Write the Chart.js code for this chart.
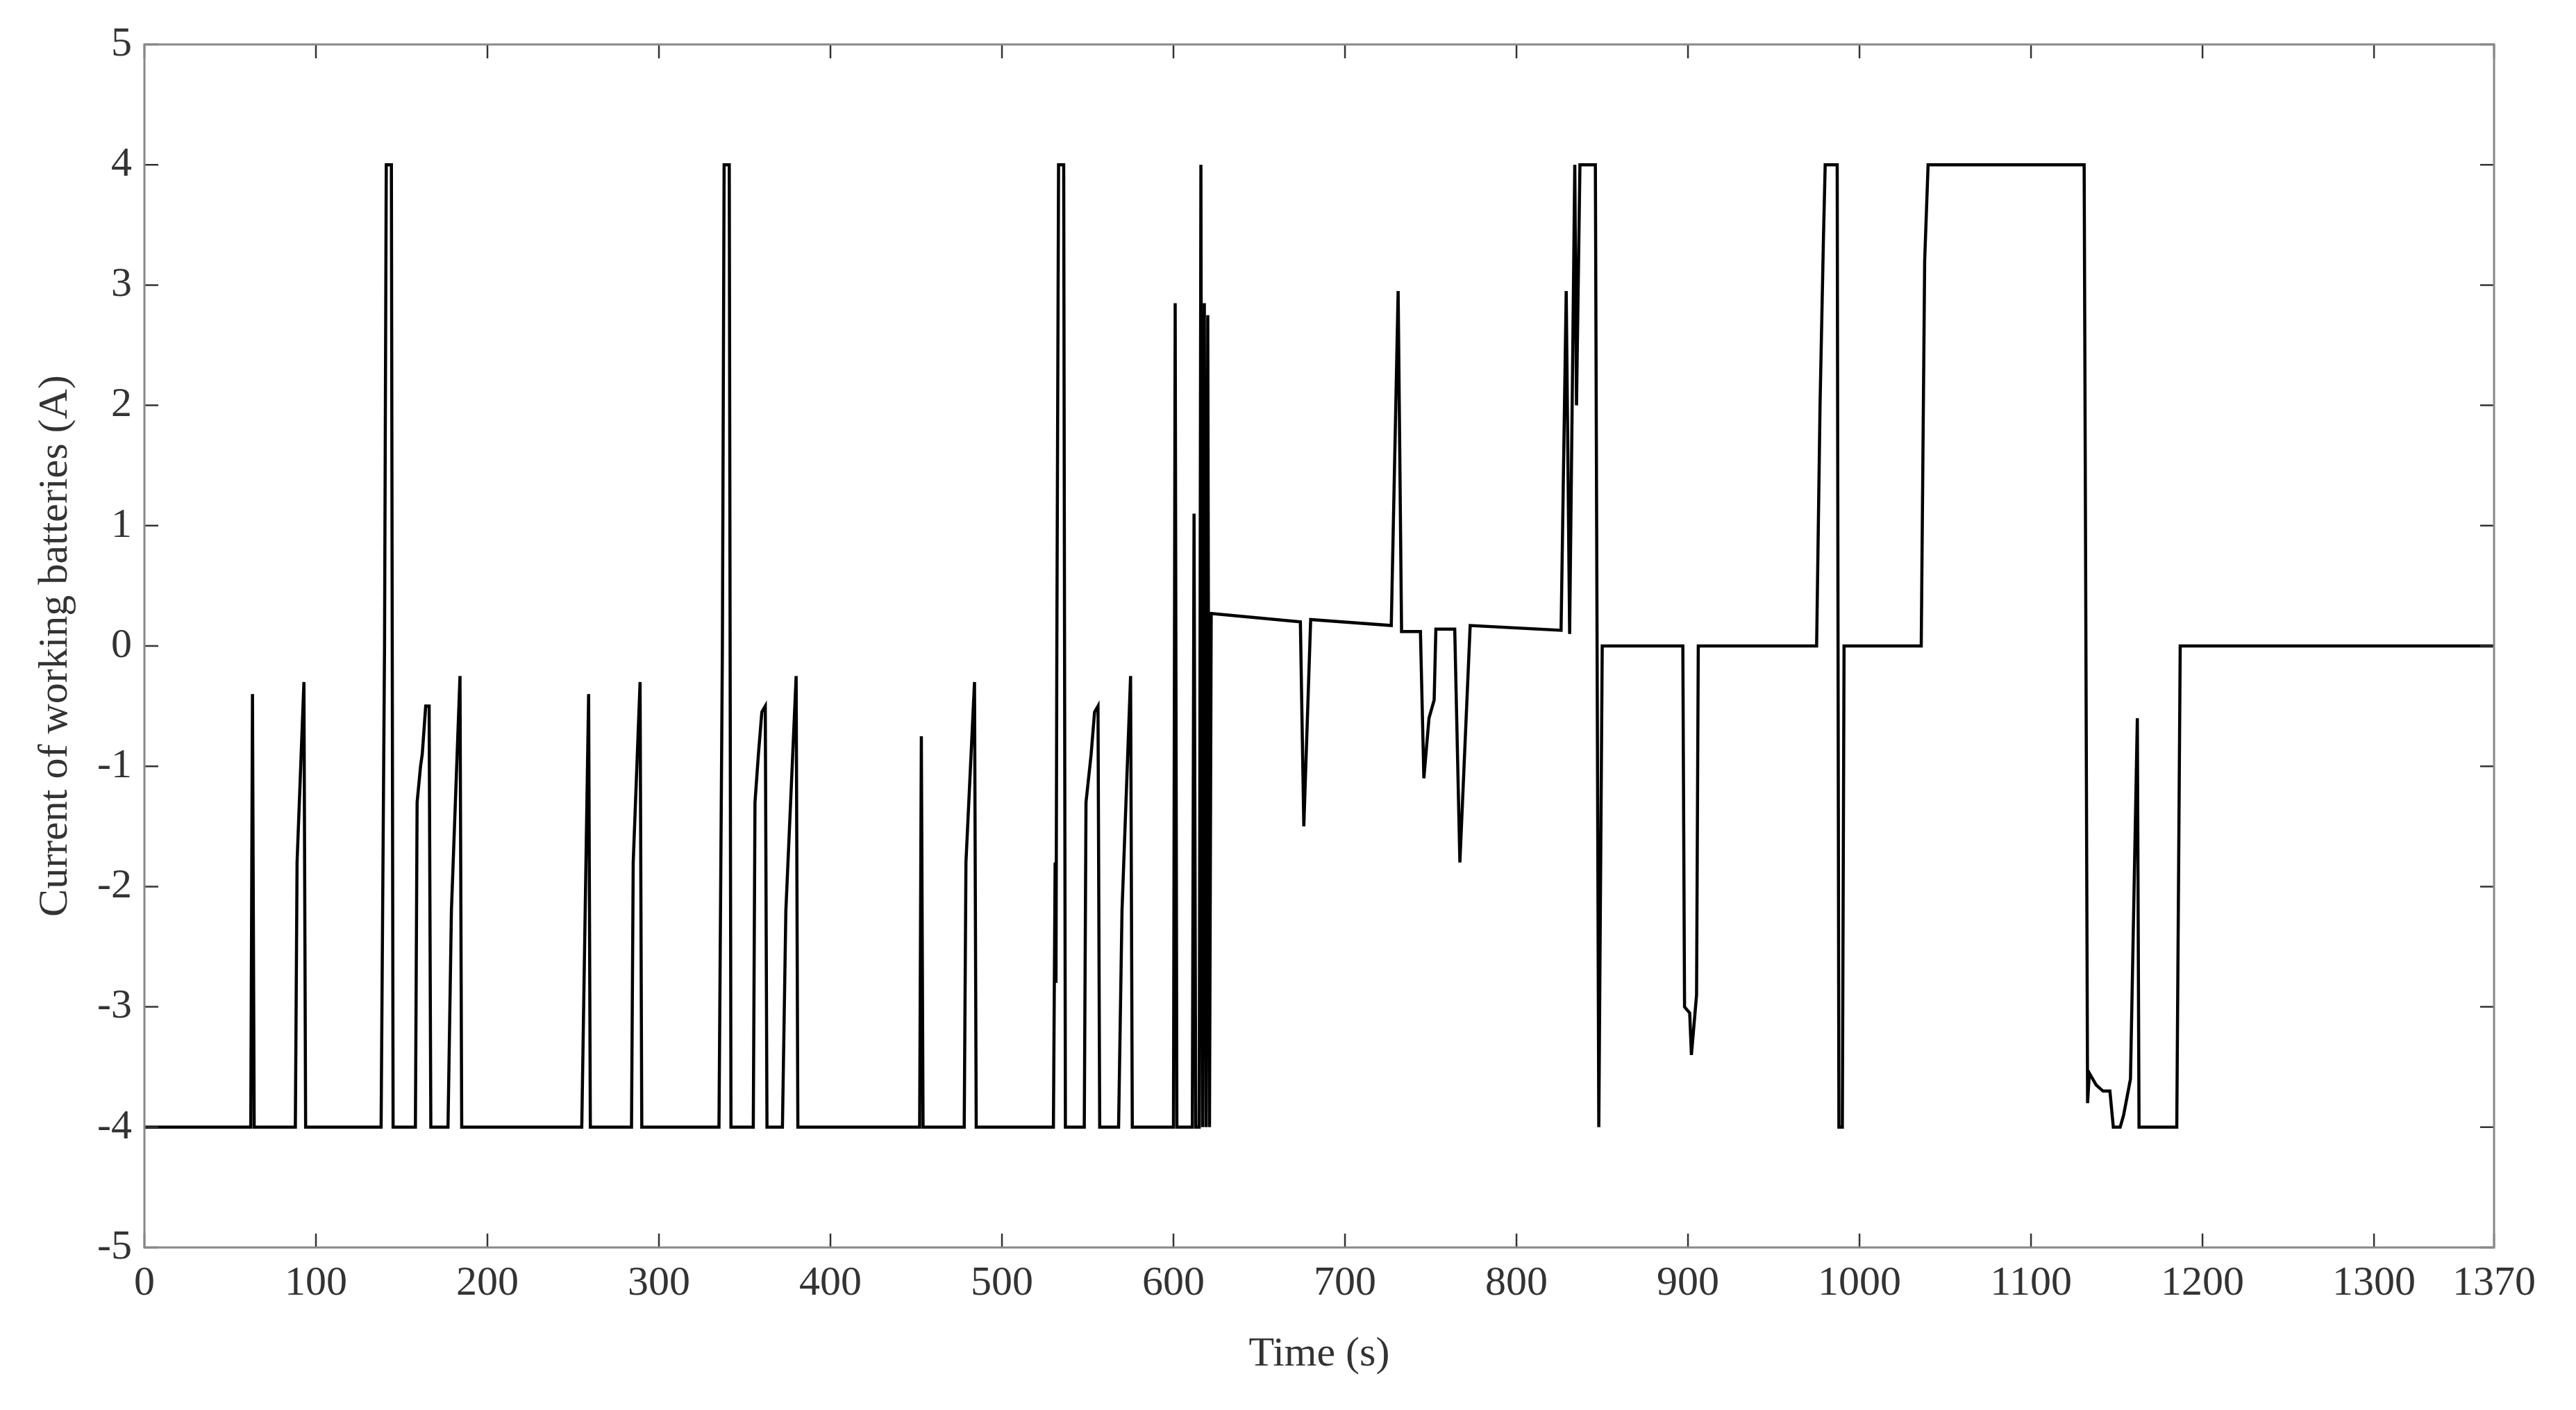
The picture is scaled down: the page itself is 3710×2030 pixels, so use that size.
<!DOCTYPE html>
<html>
<head>
<meta charset="utf-8">
<script src="https://cdn.jsdelivr.net/npm/chart.js@4.4.1/dist/chart.umd.min.js"></script>
<style>
  html, body { margin: 0; padding: 0; background: #fff; }
  #wrap { width: 3710px; height: 2030px; }
</style>
</head>
<body>
<div id="wrap"><canvas id="currentChart" width="3710" height="2030"></canvas></div>
<script>
// time (s) and current (A)
const timeS = [0, 62, 63, 64, 88, 89, 93, 94, 138, 140, 141, 144, 145, 158, 159, 161, 162, 164, 166, 167, 177, 179, 184, 185,
  255, 259, 260, 284, 285, 289, 290, 335, 337, 338, 341, 342, 355, 356, 358, 360, 362, 363, 372, 374, 380, 381,
  452, 453, 454, 478, 479, 484, 485, 530, 531, 531.5, 532, 533, 536, 537, 548, 549, 552, 554, 556, 557, 568, 570, 575, 576,
  600, 601, 602, 611, 612, 613, 615, 616, 617, 618, 619, 620, 621, 622,
  674, 676, 680, 727, 731, 733, 744, 746, 749, 752, 753, 764, 767, 773, 826, 829, 831, 834, 835, 837, 839, 846, 848, 850,
  897, 898, 901, 902, 905, 906, 975, 977, 979, 980, 987, 988, 990, 991, 1036, 1038, 1040, 1131,
  1133, 1134, 1138, 1142, 1146, 1148, 1152, 1154, 1158, 1162, 1163, 1185, 1187, 1370];
const currentA = [-4, -4, -0.4, -4, -4, -1.8, -0.3, -4, -4, 0, 4, 4, -4, -4, -1.3, -1.0, -0.9, -0.5, -0.5, -4, -4, -2.2, -0.25, -4,
  -4, -0.4, -4, -4, -1.8, -0.3, -4, -4, 0, 4, 4, -4, -4, -1.3, -0.9, -0.55, -0.5, -4, -4, -2.2, -0.25, -4,
  -4, -0.75, -4, -4, -1.8, -0.3, -4, -4, -1.8, -2.8, 0, 4, 4, -4, -4, -1.3, -0.9, -0.55, -0.5, -4, -4, -2.2, -0.25, -4,
  -4, 2.85, -4, -4, 1.1, -4, -4, 4, -4, 2.85, -4, 2.75, -4, 0.27,
  0.2, -1.5, 0.22, 0.17, 2.95, 0.12, 0.12, -1.1, -0.6, -0.45, 0.14, 0.14, -1.8, 0.17, 0.13, 2.95, 0.1, 4, 2, 4, 4, 4, -4, 0,
  0, -3, -3.05, -3.4, -2.9, 0, 0, 2, 3.4, 4, 4, -4, -4, 0, 0, 3.2, 4, 4,
  -3.8, -3.55, -3.65, -3.7, -3.7, -4, -4, -3.9, -3.6, -0.6, -4, -4, 0, 0];
const xTicks = [0, 100, 200, 300, 400, 500, 600, 700, 800, 900, 1000, 1100, 1200, 1300, 1370];
const yTicks = [-5, -4, -3, -2, -1, 0, 1, 2, 3, 4, 5];

const points = timeS.map((t, i) => ({ x: t, y: currentA[i] }));
const font = { family: '"Liberation Serif", "Times New Roman", serif', size: 60 };

// inward ticks on all four sides, like the original figure
const inwardTicks = {
  id: 'inwardTicks',
  afterDraw(chart) {
    const { ctx, chartArea: a, scales: { x, y } } = chart;
    const len = 20;
    ctx.save();
    ctx.strokeStyle = '#333';
    ctx.lineWidth = 2.5;
    ctx.beginPath();
    xTicks.forEach(v => {
      const px = x.getPixelForValue(v);
      ctx.moveTo(px, a.bottom); ctx.lineTo(px, a.bottom - len);
      ctx.moveTo(px, a.top); ctx.lineTo(px, a.top + len);
    });
    yTicks.forEach(v => {
      const py = y.getPixelForValue(v);
      ctx.moveTo(a.left, py); ctx.lineTo(a.left + len, py);
      ctx.moveTo(a.right, py); ctx.lineTo(a.right - len, py);
    });
    ctx.stroke();
    ctx.strokeStyle = '#888';
    ctx.lineWidth = 3;
    ctx.strokeRect(a.left, a.top, a.right - a.left, a.bottom - a.top);
    ctx.restore();
  }
};

new Chart(document.getElementById('currentChart'), {
  type: 'line',
  data: {
    datasets: [{
      data: points,
      borderColor: '#000',
      borderWidth: 4.5,
      pointRadius: 0,
      tension: 0,
      fill: false
    }]
  },
  options: {
    responsive: false,
    animation: false,
    devicePixelRatio: 1,
    layout: { padding: { top: 64, right: 118, left: 40, bottom: 40 } },
    plugins: { legend: { display: false }, tooltip: { enabled: false } },
    scales: {
      x: {
        type: 'linear',
        min: 0,
        max: 1370,
        afterBuildTicks: s => { s.ticks = xTicks.map(v => ({ value: v })); },
        afterFit: s => { s.height = 2030 - 1796 - 40; },
        grid: { display: false },
        border: { display: false },
        ticks: { font: font, color: '#333', padding: 8, maxRotation: 0, autoSkip: false, callback: v => String(v) },
        title: { display: true, text: 'Time (s)', font: font, color: '#333', padding: { top: 0 } }
      },
      y: {
        min: -5,
        max: 5,
        afterBuildTicks: s => { s.ticks = yTicks.map(v => ({ value: v })); },
        afterFit: s => { s.width = 168; },
        grid: { display: false },
        border: { display: false },
        ticks: { font: font, color: '#333', padding: 10, callback: v => String(v) },
        title: { display: true, text: 'Current of working batteries (A)', font: font, color: '#333', padding: { bottom: 0 } }
      }
    }
  },
  plugins: [inwardTicks]
});
</script>
</body>
</html>
